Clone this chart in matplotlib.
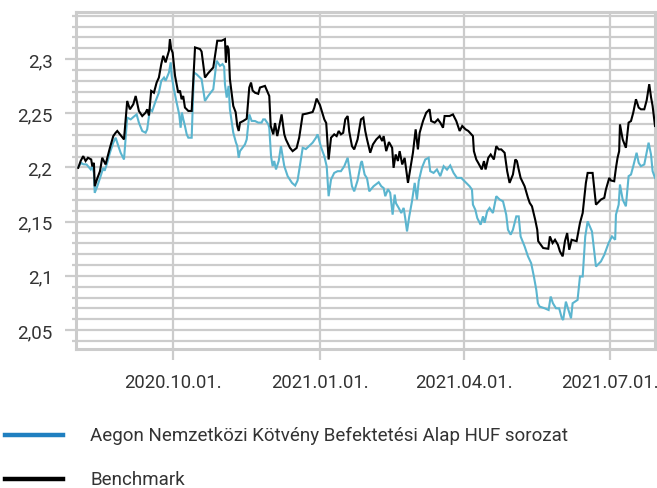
import datetime as dt
import numpy as np
import matplotlib
matplotlib.use("Agg")
import matplotlib.pyplot as plt
import matplotlib.dates as mdates
from matplotlib import font_manager
from matplotlib.ticker import FixedLocator, MultipleLocator, FuncFormatter

# ---------------- data (day offsets from 2020-10-01, values) ----------------
base_date = dt.date(2020, 10, 1)

bench_days = [-59.2, -57.7, -56.1, -54.6, -53.1, -51.1, -50.4, -49.4, -48.9, -47.3,
              -45.6, -44.2, -42.1, -39.4, -37.3, -35.8, -34.8, -30.6, -28.6, -26.9,
              -24.8, -23.3, -21.3, -19.2, -17.1, -16.1, -15.0, -13.6, -11.9, -10.2,
              -8.8, -7.3, -6.1, -4.6, -2.5, -1.9, -1.1, -0.2, 1.3, 3.3,
              4.4, 5.4, 6.4, 7.5, 9.6, 11.7, 13.8, 16.9, 17.9, 20.0,
              22.0, 25.2, 27.7, 30.4, 32.5, 33.1, 33.9, 34.8, 35.6, 37.7,
              39.2, 40.2, 41.1, 41.9, 43.9, 46.1, 47.7, 48.8, 49.8, 51.3,
              53.3, 54.4, 57.5, 60.2, 61.1, 62.7, 63.8, 65.2, 67.9, 69.6,
              70.6, 73.1, 74.8, 77.3, 78.9, 81.1, 83.8, 87.3, 88.3, 89.8,
              91.9, 94.6, 95.8, 97.3, 98.8, 100.8, 102.3, 103.6, 105.0, 106.4,
              107.7, 109.2, 110.2, 111.9, 113.3, 115.4, 117.5, 119.0, 120.2, 121.3,
              123.3, 125.0, 127.1, 129.2, 130.8, 131.7, 133.3, 135.0, 137.0, 137.9,
              139.2, 140.6, 141.7, 143.3, 144.8, 146.9, 148.3, 150.0, 151.7, 153.1,
              154.2, 156.3, 158.3, 160.4, 161.4, 163.6, 165.6, 167.1, 168.8, 169.8,
              172.9, 175.0, 177.1, 179.2, 180.8, 182.9, 184.6, 187.5, 188.1, 189.6,
              190.8, 193.0, 194.4, 195.4, 197.1, 198.6, 200.6, 202.1, 203.6, 205.2,
              207.3, 208.9, 210.4, 212.5, 214.0, 215.0, 216.1, 217.3, 219.8, 221.9,
              223.0, 224.4, 226.4, 227.7, 228.3, 231.4, 234.6, 235.6, 237.3, 238.8,
              240.6, 241.9, 243.6, 245.0, 246.4, 247.7, 249.2, 252.3, 254.4, 256.1,
              258.1, 259.2, 262.3, 264.4, 267.5, 269.6, 270.6, 272.7, 273.8, 275.8,
              276.9, 277.9, 278.9, 279.4, 281.1, 283.1, 284.8, 286.3, 287.7, 289.4,
              291.1, 292.5, 294.6, 296.1, 297.7, 298.8, 299.8, 301.3]
bench_vals = [2.1997, 2.206, 2.2105, 2.206, 2.209, 2.2074, 2.201, 2.2043, 2.1827, 2.190,
              2.1966, 2.209, 2.2028, 2.2182, 2.229, 2.2321, 2.2337, 2.2259, 2.2614, 2.2537,
              2.2583, 2.266, 2.2522, 2.2475, 2.2506, 2.2537, 2.248, 2.2707, 2.269, 2.2784,
              2.283, 2.2954, 2.3031, 2.297, 2.3077, 2.3185, 2.3093, 2.306, 2.2846, 2.269,
              2.271, 2.263, 2.266, 2.2553, 2.2522, 2.2522, 2.3108, 2.3093, 2.307, 2.283,
              2.287, 2.2923, 2.317, 2.317, 2.3185, 2.297, 2.3124, 2.309, 2.2815, 2.2568,
              2.251, 2.2383, 2.2337, 2.2414, 2.2429, 2.245, 2.2738, 2.2784, 2.271, 2.269,
              2.268, 2.2738, 2.2753, 2.266, 2.2383, 2.2306, 2.241, 2.229, 2.249, 2.2306,
              2.2259, 2.2182, 2.2151, 2.218, 2.2275, 2.249, 2.2498, 2.2512, 2.255, 2.2636,
              2.2575, 2.2444, 2.241, 2.2074, 2.2275, 2.2306, 2.229, 2.2337, 2.2306, 2.232,
              2.2444, 2.2475, 2.233, 2.2197, 2.2167, 2.2259, 2.2444, 2.246, 2.2337, 2.226,
              2.2136, 2.2213, 2.2259, 2.229, 2.2244, 2.229, 2.2151, 2.2235, 2.2182, 2.1997,
              2.212, 2.206, 2.2151, 2.2028, 2.2089, 2.1858, 2.1982, 2.2136, 2.2352, 2.2167,
              2.2321, 2.2429, 2.2506, 2.2537, 2.2429, 2.2414, 2.2444, 2.2414, 2.2367, 2.2475,
              2.2475, 2.249, 2.2429, 2.2337, 2.2383, 2.2352, 2.2337, 2.229, 2.2151, 2.2074,
              2.2043, 2.1982, 2.2059, 2.1982, 2.209, 2.212, 2.2074, 2.2197, 2.2167, 2.2167,
              2.2136, 2.1966, 2.1858, 2.1935, 2.2074, 2.2059, 2.1982, 2.1904, 2.1827, 2.172,
              2.1673, 2.1642, 2.1519, 2.1426, 2.132, 2.1257, 2.125, 2.1364, 2.1303, 2.1333,
              2.1287, 2.1225, 2.118, 2.132, 2.1395, 2.1241, 2.1333, 2.132, 2.1488, 2.158,
              2.1858, 2.195, 2.195, 2.1657, 2.1704, 2.172, 2.1796, 2.1904, 2.188, 2.1873,
              2.1997, 2.209, 2.2151, 2.2398, 2.2259, 2.2182, 2.2414, 2.2429, 2.2506, 2.263,
              2.2553, 2.2537, 2.2537, 2.262, 2.2769, 2.265, 2.2568, 2.2383]

fund_days = [-58.8, -57.3, -56.1, -54.0, -51.4, -50.4, -49.4, -48.9, -47.3, -45.2,
             -43.6, -42.7, -41.1, -39.4, -37.3, -35.8, -34.4, -32.7, -30.6, -28.6,
             -26.4, -24.4, -22.7, -21.3, -19.2, -17.1, -16.1, -14.4, -13.0, -10.8,
             -8.8, -7.3, -5.6, -4.6, -2.5, -1.4, -0.8, 0.6, 2.3, 3.9,
             4.8, 5.6, 6.4, 7.5, 8.6, 9.6, 11.7, 13.1, 14.8, 17.9,
             20.0, 22.0, 25.2, 27.3, 29.4, 31.0, 32.0, 32.5, 33.6, 34.8,
             35.6, 37.7, 39.4, 40.2, 41.1, 41.9, 45.0, 46.1, 47.7, 49.2,
             51.3, 53.3, 55.4, 56.4, 57.5, 59.6, 60.2, 61.3, 62.3, 63.3,
             64.4, 66.1, 67.5, 69.6, 71.7, 74.4, 76.4, 77.9, 81.1, 83.1,
             87.3, 89.4, 90.4, 92.5, 94.6, 96.1, 97.3, 98.8, 100.8, 102.9,
             105.0, 107.1, 109.2, 110.6, 111.9, 113.3, 115.4, 117.5, 118.1, 119.8,
             121.3, 122.7, 125.4, 128.6, 130.2, 131.7, 132.7, 134.4, 135.8, 137.3,
             138.6, 139.4, 141.1, 142.7, 144.2, 145.2, 146.3, 147.7, 149.4, 151.1,
             152.5, 153.6, 155.6, 157.7, 159.8, 160.8, 162.9, 165.0, 167.1, 169.2,
             171.3, 173.3, 175.4, 177.5, 180.2, 183.3, 185.4, 186.9, 187.5, 189.0,
             190.2, 192.3, 193.8, 194.8, 196.4, 197.9, 200.0, 202.1, 204.2, 206.3,
             208.3, 209.4, 211.1, 212.5, 214.6, 216.1, 217.3, 219.8, 221.9, 223.9,
             225.6, 227.1, 228.1, 229.2, 232.3, 234.8, 236.1, 237.5, 239.4, 241.4,
             243.1, 243.9, 245.6, 247.3, 248.8, 249.8, 252.9, 254.4, 256.1, 257.7,
             259.2, 261.9, 264.4, 267.5, 269.6, 272.3, 274.4, 276.4, 276.9, 278.6,
             279.4, 281.1, 283.1, 284.8, 286.3, 287.7, 289.8, 291.1, 292.5, 294.6,
             297.3, 298.8, 299.8, 301.3]
fund_vals = [2.2012, 2.2043, 2.203, 2.2028, 2.1982, 2.201, 2.1951, 2.1766, 2.1827, 2.192,
             2.1997, 2.197, 2.2043, 2.2136, 2.2229, 2.2275, 2.221, 2.2136, 2.2074, 2.246,
             2.2444, 2.247, 2.249, 2.2414, 2.2337, 2.2321, 2.2352, 2.2537, 2.252, 2.2614,
             2.2691, 2.2799, 2.283, 2.280, 2.2877, 2.297, 2.2846, 2.2722, 2.2599, 2.249,
             2.2367, 2.2506, 2.245, 2.2383, 2.2306, 2.2275, 2.2275, 2.2877, 2.286, 2.2815,
             2.2614, 2.266, 2.2722, 2.2985, 2.2938, 2.2954, 2.293, 2.2769, 2.2645, 2.2753,
             2.2537, 2.2321, 2.2229, 2.2198, 2.209, 2.2151, 2.2213, 2.2259, 2.249, 2.243,
             2.2429, 2.2414, 2.2414, 2.2444, 2.2444, 2.2398, 2.2367, 2.2105, 2.2012, 2.206,
             2.1982, 2.206, 2.2197, 2.2012, 2.192, 2.1858, 2.1833, 2.188, 2.2182, 2.217,
             2.2229, 2.2275, 2.2306, 2.219, 2.2105, 2.201, 2.1735, 2.1889, 2.195, 2.1966,
             2.1966, 2.2012, 2.209, 2.195, 2.1827, 2.178, 2.188, 2.2043, 2.2059, 2.1935,
             2.190, 2.178, 2.1827, 2.1864, 2.1827, 2.181, 2.1735, 2.18, 2.1765, 2.1565,
             2.175, 2.167, 2.1627, 2.158, 2.1627, 2.153, 2.141, 2.1549, 2.1688, 2.1858,
             2.1704, 2.1873, 2.1997, 2.2074, 2.209, 2.1966, 2.195, 2.1982, 2.192, 2.2012,
             2.198, 2.2019, 2.195, 2.1904, 2.1904, 2.1858, 2.1827, 2.1796, 2.1657, 2.161,
             2.1534, 2.1472, 2.1549, 2.149, 2.1596, 2.1627, 2.158, 2.1735, 2.1704, 2.1688,
             2.1565, 2.1426, 2.138, 2.1426, 2.1549, 2.1549, 2.1364, 2.1272, 2.118, 2.1117,
             2.0994, 2.087, 2.0747, 2.0716, 2.0701, 2.0685, 2.0809, 2.0747, 2.0701, 2.070,
             2.0608, 2.0593, 2.0762, 2.068, 2.0608, 2.0747, 2.0778, 2.0994, 2.0994, 2.1364,
             2.1503, 2.141, 2.1086, 2.1133, 2.1194, 2.1303, 2.1364, 2.1333, 2.1565, 2.1657,
             2.1843, 2.1704, 2.1642, 2.192, 2.1935, 2.2012, 2.2136, 2.2043, 2.2012, 2.2028,
             2.2229, 2.212, 2.1966, 2.1904]

tick_dates = [dt.date(2020, 10, 1), dt.date(2021, 1, 1), dt.date(2021, 4, 1), dt.date(2021, 7, 1)]
tick_labels = ["2020.10.01.", "2021.01.01.", "2021.04.01.", "2021.07.01."]
y_tick_values = [2.05, 2.1, 2.15, 2.2, 2.25, 2.3]

series_names = ["Aegon Nemzetközi Kötvény Befektetési Alap HUF sorozat", "Benchmark"]

# ---------------- font ----------------
avail = {f.name for f in font_manager.fontManager.ttflist}
family = "DejaVu Sans"
for cand in ["Roboto", "Lato", "Liberation Sans"]:
    if cand in avail:
        family = cand
        break
plt.rcParams["font.family"] = [family, "DejaVu Sans"]

text_color = "#333333"
grid_color = "#cccccc"
fund_color = "#5bb5cf"
legend_fund_color = "#1f7fc0"

# ---------------- figure ----------------
fig = plt.figure(figsize=(6.57, 4.89), dpi=100)
ax = fig.add_axes([76 / 657, 1 - 350 / 489, (655 - 76) / 657, (350 - 13) / 489])

base_num = mdates.date2num(base_date)
bx = base_num + np.array(bench_days)
fx = base_num + np.array(fund_days)

ax.plot(fx, fund_vals, color=fund_color, lw=1.5, zorder=3, solid_joinstyle="miter")
ax.plot(bx, bench_vals, color="black", lw=1.5, zorder=4, solid_joinstyle="miter")

ax.set_xlim(base_num - 60.6, base_num + 301.3)
ax.set_ylim(2.0325, 2.3435)

tick_nums = [mdates.date2num(d) for d in tick_dates]
ax.xaxis.set_major_locator(FixedLocator(tick_nums))
ax.set_xticklabels(tick_labels)
ax.yaxis.set_major_locator(FixedLocator(y_tick_values))
ax.yaxis.set_minor_locator(MultipleLocator(0.01))
ax.yaxis.set_major_formatter(FuncFormatter(lambda v, p: ("%g" % round(v, 2)).replace(".", ",")))

ax.grid(True, which="both", axis="y", color=grid_color, lw=1.6, zorder=0)
ax.grid(True, which="major", axis="x", color=grid_color, lw=1.6, zorder=0)
ax.set_axisbelow(True)

for s in ax.spines.values():
    s.set_color(grid_color)
    s.set_linewidth(2.2)

ax.tick_params(axis="y", which="major", length=8, width=1.6, color=grid_color,
               labelsize=13.5, labelcolor=text_color, pad=9)
ax.tick_params(axis="y", which="minor", length=3, width=1.6, color=grid_color)
ax.tick_params(axis="x", which="major", length=8, width=1.6, color=grid_color,
               labelsize=13.3, labelcolor=text_color, pad=9)

# ---------------- legend (manual, below chart) ----------------
legend_rows = [(series_names[0], legend_fund_color, 436), (series_names[1], "black", 480)]
for name, col, ypx in legend_rows:
    yf = 1 - ypx / 489
    fig.add_artist(plt.Line2D([5 / 657, 63 / 657], [yf, yf], color=col, lw=3.2,
                              transform=fig.transFigure))
    fig.text(90 / 657, yf, name, color=text_color, fontsize=13.5, va="center", ha="left")

fig.savefig("out.png", dpi=100)
